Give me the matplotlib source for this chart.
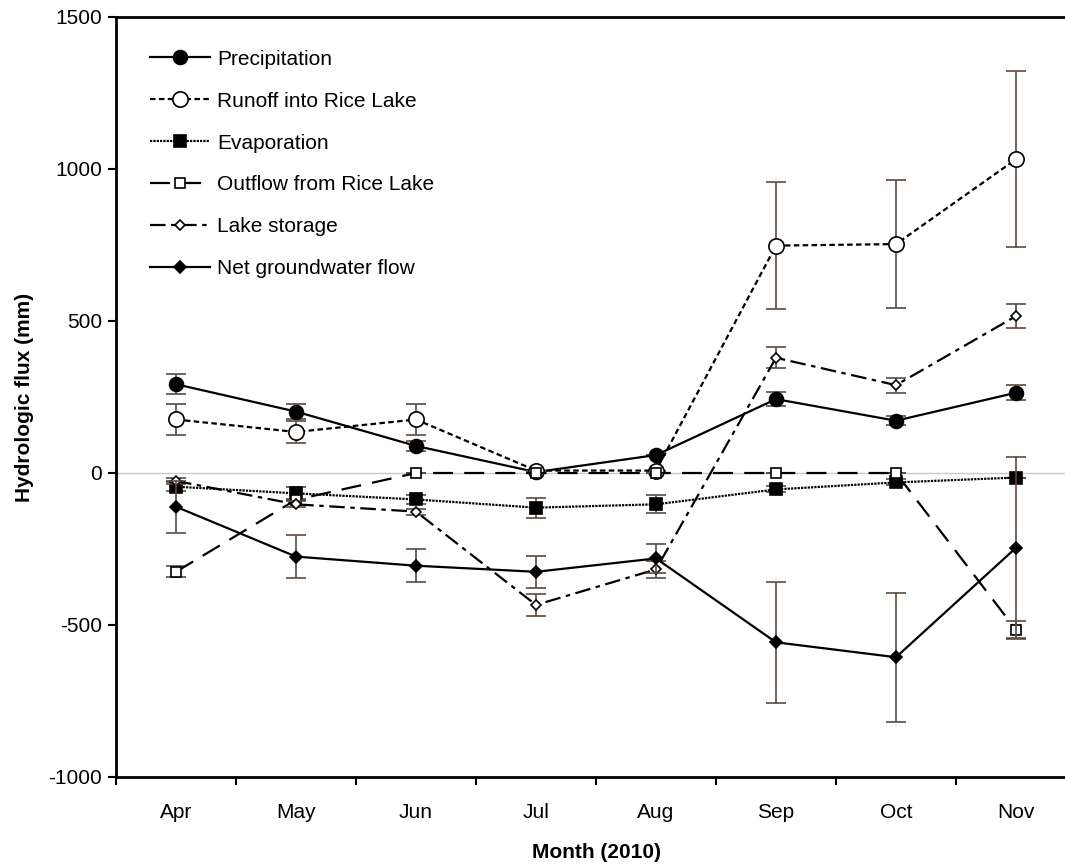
import matplotlib
matplotlib.use('Agg')
import matplotlib.pyplot as plt

plt.rcParams['font.family'] = ['Liberation Sans', 'DejaVu Sans']
plt.rcParams['axes.unicode_minus'] = False

months = ['Apr', 'May', 'Jun', 'Jul', 'Aug', 'Sep', 'Oct', 'Nov']

precip = [292, 202, 89, 3, 59, 243, 172, 264]
precip_err = [33, 25, 15, 0, 0, 23, 15, 25]

runoff = [176, 135, 176, 8, 8, 748, 753, 1032]
runoff_err = [50, 37, 50, 0, 0, 210, 210, 290]

evap = [-45, -67, -87, -114, -103, -54, -31, -15]
evap_err = [15, 20, 15, 33, 30, 10, 10, 0]

outflow = [-325, -88, 0, 0, 0, 0, 0, -516]
outflow_err = [18, 0, 0, 0, 0, 0, 0, 28]

storage = [-26, -103, -127, -434, -317, 379, 289, 516]
storage_err = [10, 10, 10, 35, 27, 35, 25, 40]

gw = [-111, -275, -305, -325, -281, -557, -606, -246]
gw_err = [85, 72, 55, 53, 47, 200, 212, 300]

x = list(range(len(months)))
ecol = '#5b4a40'

fig = plt.figure(figsize=(10.65, 8.67), dpi=100)
ax = fig.add_axes([116/1065, 90/867, 960/1065, 760/867])

ax.axhline(0, color='#c8c8c8', lw=1, zorder=0)

series = [
    (precip, precip_err, 'Precipitation', '-', 'o', 'k', 10),
    (runoff, runoff_err, 'Runoff into Rice Lake', (0, (2.5, 1.5)), 'o', 'white', 11),
    (evap, evap_err, 'Evaporation', (0, (1, 0.5)), 's', 'k', 8),
    (outflow, outflow_err, 'Outflow from Rice Lake', (0, (9, 5)), 's', 'white', 6.5),
    (storage, storage_err, 'Lake storage', (0, (7, 2.5, 2, 2.5)), 'D', 'white', 5.5),
    (gw, gw_err, 'Net groundwater flow', '-', 'D', 'k', 6.5),
]

for i, (vals, errs, name, ls, mk, fc, ms) in enumerate(series):
    ax.errorbar(x, vals, yerr=errs, fmt='none', ecolor=ecol, elinewidth=1.2,
                capsize=7, capthick=1.2, zorder=2 + i)
    ax.plot(x, vals, linestyle=ls, color='k', lw=1.6, marker=mk, ms=ms,
            mfc=fc, mec='k', mew=1.2, label=name, zorder=3 + i)

ax.set_xlim(-0.5, 7.5)
ax.set_ylim(-1000, 1500)
ax.set_yticks([-1000, -500, 0, 500, 1000, 1500])
ax.set_xticks(x)
ax.set_xticklabels(months)
ax.set_xticks([i + 0.5 for i in range(-1, 8)], minor=True)
ax.tick_params(axis='x', which='major', length=0, pad=19, labelsize=15)
ax.tick_params(axis='x', which='minor', length=6, width=1.5, direction='out')
ax.tick_params(axis='y', length=6, width=1.5, direction='out', labelsize=15, pad=4)

for s in ['left', 'bottom', 'top']:
    ax.spines[s].set_linewidth(2)
ax.spines['right'].set_visible(False)

ax.set_xlabel('Month (2010)', fontsize=15, fontweight='bold', labelpad=15)
ax.set_ylabel('Hydrologic flux (mm)', fontsize=15, fontweight='bold', labelpad=10)

ax.legend(loc='upper left', bbox_to_anchor=(0.035, 0.957), frameon=False,
          fontsize=15, handlelength=2.9, handletextpad=0.35, labelspacing=1.1,
          borderaxespad=0, borderpad=0, numpoints=1)

fig.savefig('out.png', dpi=100)
